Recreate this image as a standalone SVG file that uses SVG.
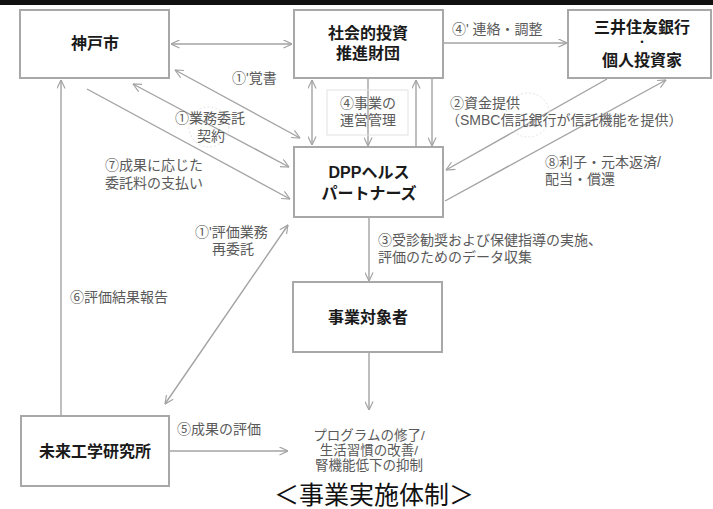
<svg xmlns="http://www.w3.org/2000/svg" width="713" height="509" viewBox="0 0 713 509">
<style>
text{font-family:"Liberation Sans","Noto Sans CJK JP",sans-serif}
.box{fill:#fff;stroke:#a8a8a8;stroke-width:2}
.nt{font-size:16px;font-weight:bold;fill:#1a1a1a;text-anchor:middle}
.lb{font-size:14px;fill:#5a5a5a}
.oc{font-size:13.5px;fill:#5a5a5a;text-anchor:middle}
.c{fill:none;stroke:#a3a3a3;stroke-width:1.4}
.ah{marker-end:url(#arr)}
.ab{marker-start:url(#arr);marker-end:url(#arr)}
</style>
<defs>
<marker id="arr" viewBox="0 0 10 10" refX="9.5" refY="5" markerWidth="9" markerHeight="9" markerUnits="userSpaceOnUse" orient="auto-start-reverse">
<path d="M0,0.5 L9.5,5 L0,9.5" fill="none" stroke="#a3a3a3" stroke-width="1.3"/>
</marker>
</defs>
<rect x="0" y="0" width="713" height="509" fill="#fff"/>
<rect x="0" y="0" width="713" height="5" fill="#111"/>

<g id="connectors">
<line class="c ab" x1="171" y1="44" x2="292" y2="44"/>
<line class="c ah" x1="444" y1="43" x2="567" y2="43"/>
<line class="c ab" x1="175" y1="70" x2="300" y2="138"/>
<line class="c ab" x1="133" y1="84" x2="289" y2="167"/>
<line class="c ah" x1="87" y1="89" x2="290" y2="199"/>
<line class="c ab" x1="312" y1="80" x2="312" y2="145"/>
<line class="c ah" x1="368" y1="79" x2="368" y2="146"/>
<line class="c ah" x1="416" y1="147" x2="416" y2="80"/>
<line class="c ah" x1="432" y1="79" x2="432" y2="146"/>
<line class="c ah" x1="607" y1="79" x2="446" y2="170"/>
<line class="c ah" x1="445" y1="201" x2="666" y2="80"/>
<line class="c ah" x1="369" y1="218" x2="369" y2="281"/>
<line class="c ah" x1="369" y1="353" x2="369" y2="410"/>
<line class="c ah" x1="170" y1="451" x2="288" y2="451"/>
<line class="c ah" x1="61" y1="415" x2="61" y2="80"/>
<line class="c ab" x1="288" y1="225" x2="165" y2="404"/>
</g>

<g id="node-kobe">
<rect class="box" x="20" y="10" width="149" height="68"/>
<text class="nt" x="95" y="49">神戸市</text>
</g>
<g id="node-zaidan">
<rect class="box" x="294" y="10" width="149" height="68"/>
<text class="nt" x="368" y="39">社会的投資</text>
<text class="nt" x="368" y="59">推進財団</text>
</g>
<g id="node-bank">
<rect class="box" x="568" y="10" width="143" height="68"/>
<text class="nt" x="642" y="33">三井住友銀行</text>
<text class="nt" x="642" y="46" style="font-size:10px">・</text>
<text class="nt" x="642" y="66">個人投資家</text>
</g>
<g id="node-dpp">
<rect class="box" x="294" y="147" width="149" height="70"/>
<text class="nt" x="369" y="178">DPPヘルス</text>
<text class="nt" x="369" y="199">パートナーズ</text>
</g>
<g id="node-target">
<rect class="box" x="293" y="282" width="149" height="70"/>
<text class="nt" x="368" y="323">事業対象者</text>
</g>
<g id="node-mirai">
<rect class="box" x="21" y="416" width="148" height="70"/>
<text class="nt" x="95" y="457">未来工学研究所</text>
</g>

<g id="labels">
<circle cx="209" cy="127" r="20" fill="none" stroke="#e4e4e4" stroke-width="1" stroke-dasharray="2,2"/>
<circle cx="528" cy="115" r="22" fill="none" stroke="#e4e4e4" stroke-width="1" stroke-dasharray="2,2"/>
<text class="lb" x="232" y="83">①'覚書</text>
<text class="lb" x="175" y="123">①業務委託</text>
<text class="lb" x="197" y="141">契約</text>
<text class="lb" x="105" y="170">⑦成果に応じた</text>
<text class="lb" x="105" y="188">委託料の支払い</text>
<rect x="327" y="90" width="81" height="45" fill="none" stroke="#e2e2e2" stroke-width="1"/>
<text class="lb" x="368" y="108" text-anchor="middle">④事業の</text>
<text class="lb" x="368" y="125" text-anchor="middle">運営管理</text>
<text class="lb" x="452" y="34">④' 連絡・調整</text>
<text class="lb" x="450" y="108">②資金提供</text>
<text class="lb" x="446" y="125">（SMBC信託銀行が信託機能を提供）</text>
<text class="lb" x="545" y="167">⑧利子・元本返済/</text>
<text class="lb" x="545" y="184">配当・償還</text>
<text class="lb" x="378" y="245">③受診勧奨および保健指導の実施、</text>
<text class="lb" x="378" y="262">評価のためのデータ収集</text>
<text class="lb" x="195" y="237">①'評価業務</text>
<text class="lb" x="212" y="254">再委託</text>
<text class="lb" x="70" y="302">⑥評価結果報告</text>
<text class="lb" x="177" y="434">⑤成果の評価</text>
<text class="oc" x="369" y="440">プログラムの修了/</text>
<text class="oc" x="369" y="455">生活習慣の改善/</text>
<text class="oc" x="369" y="470">腎機能低下の抑制</text>
</g>
<text x="374" y="504" text-anchor="middle" style="font-size:25px;fill:#111">＜事業実施体制＞</text>
</svg>
